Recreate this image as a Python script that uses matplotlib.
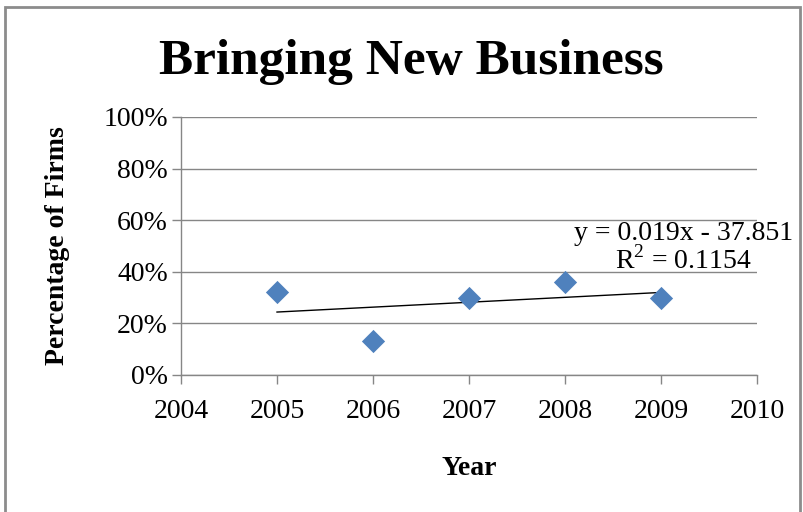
import matplotlib
matplotlib.use("Agg")
import matplotlib.pyplot as plt
from matplotlib.patches import Rectangle
from matplotlib.ticker import FuncFormatter
import numpy as np

years = [2005, 2006, 2007, 2008, 2009]
pct = [0.32, 0.13, 0.30, 0.36, 0.30]
title = "Bringing New Business"
xlabel = "Year"
ylabel = "Percentage of Firms"
eq_text = "y = 0.019x - 37.851"
r2_text = "R$^2$ = 0.1154"

serif = "Liberation Serif"
plt.rcParams["mathtext.fontset"] = "custom"
plt.rcParams["mathtext.rm"] = serif
fig = plt.figure(figsize=(8.04, 5.12), dpi=100)
ax = fig.add_axes([181/804, 1-375/512, (757-181)/804, (375-117)/512])

# regression
slope, intercept = np.polyfit(years, pct, 1)
xs = np.array([years[0], years[-1]])
ax.plot(xs, slope*xs + intercept, color="black", lw=1.0, zorder=2)
ax.scatter(years, pct, marker="D", s=140, color="#4F81BD", zorder=3, linewidths=0)

ax.set_xlim(2004, 2010)
ax.set_ylim(0, 1.0)
ax.set_xticks(range(2004, 2011))
ax.set_yticks(np.arange(0, 1.01, 0.2))
ax.yaxis.set_major_formatter(FuncFormatter(lambda v, p: f"{v*100:.0f}%"))
ax.grid(axis="y", color="#868686", lw=1.0)
ax.set_axisbelow(True)
for s in ["top", "right"]:
    ax.spines[s].set_visible(False)
for s in ["left", "bottom"]:
    ax.spines[s].set_color("#868686")
    ax.spines[s].set_linewidth(1.0)
ax.tick_params(axis="both", colors="#868686", labelcolor="black", length=6.5, width=1.0,
               labelsize=20)
ax.tick_params(axis="x", pad=11)
ax.tick_params(axis="y", pad=3)
for lab in ax.get_xticklabels() + ax.get_yticklabels():
    lab.set_family(serif)

ax.set_xlabel(xlabel, fontsize=20, fontweight="bold", family=serif, labelpad=23)
ax.set_ylabel(ylabel, fontsize=20, fontweight="bold", family=serif, labelpad=24)

fig.text(411/804, 1-62/512, title, ha="center", va="center", fontsize=37,
         fontweight="bold", family=serif)

ax.text(2009.23, 0.548, eq_text, ha="center", va="center", fontsize=20, family=serif)
ax.text(2009.23, 0.445, r2_text, ha="center", va="center", fontsize=20, family=serif)

fig.add_artist(Rectangle((5/804, -0.1), (800-5)/804, 1.1 - 7/512,
                         transform=fig.transFigure, fill=False, edgecolor="#8c8c8c", lw=2))

fig.savefig("out.png", dpi=100)
